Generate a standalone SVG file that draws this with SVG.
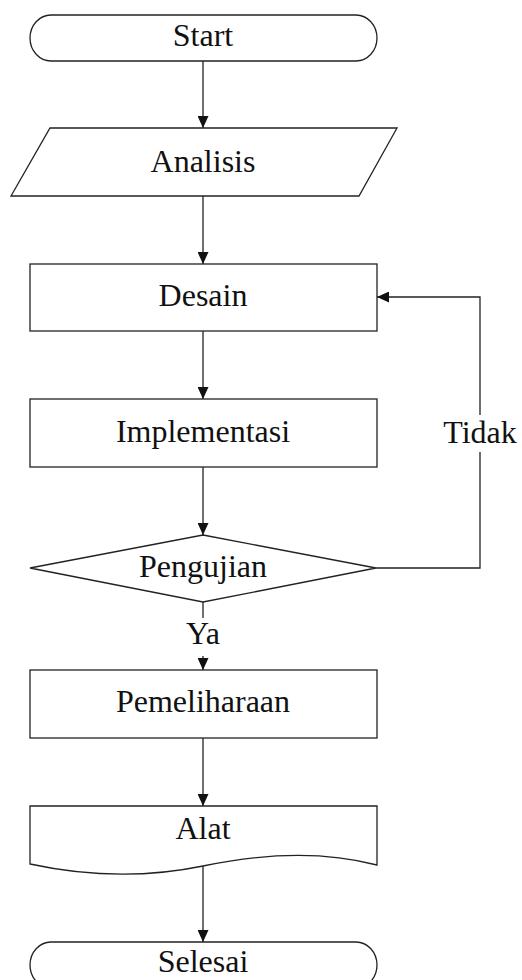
<svg xmlns="http://www.w3.org/2000/svg" width="522" height="980" viewBox="0 0 522 980">
<defs>
<style>
.s{fill:#fff;stroke:#222;stroke-width:1.3}
.c{fill:none;stroke:#222;stroke-width:1.3}
.t{font-family:"Liberation Serif","Times New Roman",serif;font-size:32px;fill:#111;text-anchor:middle}
</style>
<marker id="ah" viewBox="0 0 12 11" refX="12" refY="5.5" markerWidth="12" markerHeight="11" markerUnits="userSpaceOnUse" orient="auto">
<path d="M0,0 L12,5.5 L0,11 Z" fill="#111"/>
</marker>
</defs>
<rect width="522" height="980" fill="#fff"/>
<g id="connectors">
<line class="c" x1="203" y1="61" x2="203" y2="128" marker-end="url(#ah)"/>
<line class="c" x1="203" y1="196" x2="203" y2="264" marker-end="url(#ah)"/>
<line class="c" x1="203" y1="331" x2="203" y2="399" marker-end="url(#ah)"/>
<line class="c" x1="203" y1="467" x2="203" y2="535" marker-end="url(#ah)"/>
<polyline class="c" points="376,568 480,568 480,452"/>
<polyline class="c" points="480,415 480,297 377,297" marker-end="url(#ah)"/>
<text class="t" x="480" y="443">Tidak</text>
<line class="c" x1="203" y1="602" x2="203" y2="618"/>
<text class="t" x="203" y="644">Ya</text>
<line class="c" x1="203" y1="656" x2="203" y2="670" marker-end="url(#ah)"/>
<line class="c" x1="203" y1="738" x2="203" y2="806" marker-end="url(#ah)"/>
<line class="c" x1="203" y1="866" x2="203" y2="942" marker-end="url(#ah)"/>
</g>
<g id="start">
<rect class="s" x="30" y="15" width="347" height="46" rx="21" ry="23"/>
<text class="t" x="203" y="46">Start</text>
</g>
<g id="analisis">
<polygon class="s" points="50,128 397,128 359,196 11,196"/>
<text class="t" x="203" y="172">Analisis</text>
</g>
<g id="desain">
<rect class="s" x="30" y="264" width="347" height="67"/>
<text class="t" x="203" y="306">Desain</text>
</g>
<g id="implementasi">
<rect class="s" x="30" y="399" width="347" height="68"/>
<text class="t" x="203" y="442">Implementasi</text>
</g>
<g id="pengujian">
<polygon class="s" points="203,535 376,568 203,602 30,568"/>
<text class="t" x="203" y="577">Pengujian</text>
</g>
<g id="pemeliharaan">
<rect class="s" x="30" y="670" width="347" height="68"/>
<text class="t" x="203" y="712">Pemeliharaan</text>
</g>
<g id="alat">
<path class="s" d="M30,806 H377 V865 C320,850 260,854 203,866 C150,877 90,877 30,864 Z"/>
<text class="t" x="203" y="839">Alat</text>
</g>
<g id="selesai">
<rect class="s" x="30" y="942" width="347" height="46" rx="21" ry="23"/>
<text class="t" x="203" y="972">Selesai</text>
</g>
</svg>
